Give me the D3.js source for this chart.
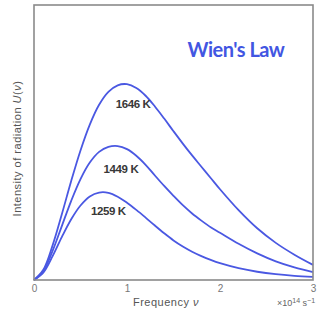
<!DOCTYPE html>
<html><head><meta charset="utf-8">
<script src="https://cdn.jsdelivr.net/npm/d3@7"></script>
<style>html,body{margin:0;padding:0;background:#fff;}svg{display:block;}</style>
</head><body>
<script>
// Frequency (×10^14 s^-1)
const freq = [0,0.1,0.2,0.3,0.4,0.5,0.6,0.7,0.8,0.9,1.0,1.1,1.2,1.3,1.4,1.5,1.6,1.7,1.8,1.9,2.0,2.2,2.4,2.6,2.8,3.0];
// Intensity of radiation U(ν), arbitrary units
const u1646 = [0,0.37,1.26,2.40,3.60,4.71,5.65,6.37,6.84,7.08,7.12,6.98,6.70,6.31,5.87,5.41,4.96,4.53,4.12,3.71,3.30,2.54,1.88,1.35,0.92,0.55];
const u1449 = [0,0.32,1.06,1.97,2.88,3.67,4.27,4.66,4.84,4.87,4.76,4.52,4.19,3.80,3.42,3.06,2.72,2.42,2.16,1.92,1.72,1.32,0.97,0.68,0.46,0.29];
const u1259 = [0,0.27,0.87,1.57,2.21,2.71,3.04,3.18,3.17,3.03,2.81,2.55,2.27,1.98,1.70,1.44,1.22,1.03,0.87,0.73,0.61,0.43,0.30,0.21,0.15,0.11];
const seriesNames = ["1646 K","1449 K","1259 K"];
const labelNu = [1.065,0.935,0.80];
const labelU = [6.25,3.90,2.37];
const xTicks = [0,1,2,3];
const xTickLabels = ["0","1","2","3"];

const W=326,H=320;
const m={l:34,r:13,t:5,b:40};
const svg=d3.select("body").append("svg").attr("width",W).attr("height",H);
const x=d3.scaleLinear().domain([0,3]).range([m.l,W-m.r]);
const y=d3.scaleLinear().domain([0,10]).range([H-m.b,m.t]);

const blue="#4a58e2";
const series=[u1646,u1449,u1259];
const line=d3.line().x((d,i)=>x(freq[i])).y(d=>y(d)).curve(d3.curveCatmullRom);
svg.selectAll("path.s").data(series).join("path").attr("class","s")
  .attr("d",line).attr("fill","none").attr("stroke",blue).attr("stroke-width",1.8).attr("stroke-linejoin","round");

// frame
svg.append("rect").attr("x",x(0)).attr("y",y(10)).attr("width",x(3)-x(0)).attr("height",y(0)-y(10))
  .attr("fill","none").attr("stroke","#8a8a8a").attr("stroke-width",1.6);

// x axis ticks
const ax=d3.axisBottom(x).tickValues(xTicks).tickFormat((d,i)=>xTickLabels[i]).tickSize(0).tickPadding(5);
const g=svg.append("g").attr("transform",`translate(0,${y(0)})`).call(ax);
g.select(".domain").remove();
g.selectAll("text").attr("font-family","Liberation Sans, Arial, sans-serif").attr("font-size",10).attr("fill","#777");

// series labels
svg.selectAll("text.lab").data(seriesNames).join("text").attr("class","lab")
  .attr("x",(d,i)=>x(labelNu[i])).attr("y",(d,i)=>y(labelU[i]))
  .attr("text-anchor","middle").attr("font-family","Liberation Sans, Arial, sans-serif")
  .attr("font-size",11.5).attr("font-weight","bold").attr("letter-spacing",-0.4).attr("fill","#383838")
  .text(d=>d);

// title
svg.append("text").attr("x",236).attr("y",57).attr("text-anchor","middle")
  .attr("font-family","Lato, Open Sans, sans-serif").attr("font-weight","bold").attr("font-size",20)
  .attr("letter-spacing",-0.5).attr("fill","#4256e2").text("Wien's Law");

// y label
const yl=svg.append("text").attr("transform",`translate(21,${(y(0)+y(10))/2+6}) rotate(-90)`)
  .attr("text-anchor","middle").attr("font-family","Liberation Sans, Arial, sans-serif")
  .attr("font-size",11).attr("letter-spacing",0.5).attr("fill","#555");
yl.append("tspan").text("Intensity of radiation  ");
yl.append("tspan").attr("font-style","italic").text("U");
yl.append("tspan").text("(");
yl.append("tspan").attr("font-style","italic").text("ν");
yl.append("tspan").text(")");

// x label
const xl=svg.append("text").attr("x",166).attr("y",306).attr("text-anchor","middle")
  .attr("font-family","Liberation Sans, Arial, sans-serif").attr("font-size",11).attr("letter-spacing",0.5).attr("fill","#555");
xl.append("tspan").text("Frequency  ");
xl.append("tspan").attr("font-style","italic").text("ν");

const un=svg.append("text").attr("x",277).attr("y",306)
  .attr("font-family","Liberation Sans, Arial, sans-serif").attr("font-size",9).attr("fill","#666");
un.append("tspan").text("×10");
un.append("tspan").attr("dy",-3).attr("font-size",7).text("14");
un.append("tspan").attr("dy",3).text(" s");
un.append("tspan").attr("dy",-3).attr("font-size",7).text("−1");
</script>
</body></html>
